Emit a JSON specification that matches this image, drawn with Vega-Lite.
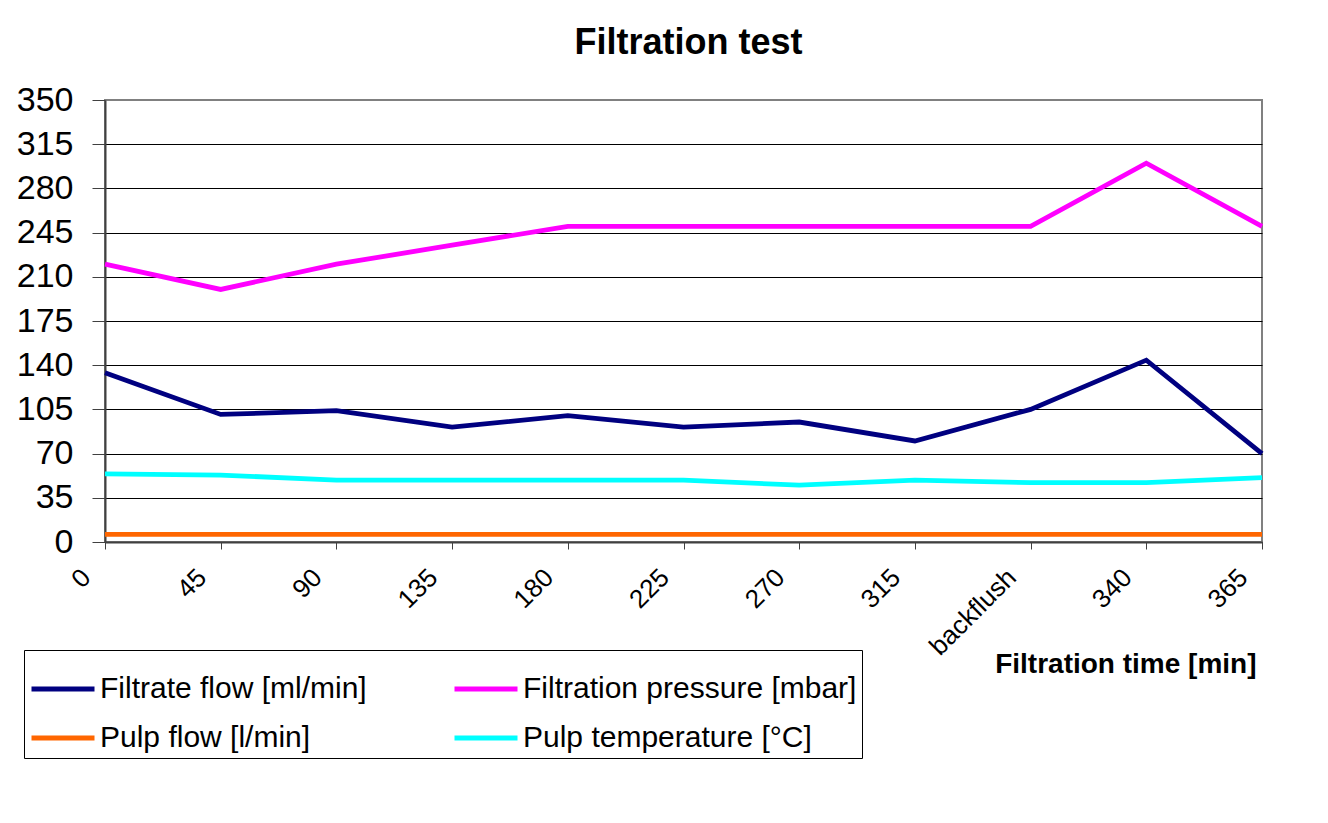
{
  "$schema": "https://vega.github.io/schema/vega-lite/v6.json",
  "width": 1157,
  "height": 442,
  "autosize": {"type": "none"},
  "padding": {"left": 105, "top": 100, "right": 66, "bottom": 281},
  "background": "white",
  "title": {
    "text": "Filtration test",
    "font": "Liberation Sans",
    "fontSize": 36,
    "fontWeight": "bold",
    "color": "black",
    "anchor": "middle",
    "frame": "group",
    "baseline": "alphabetic",
    "offset": 46,
    "dx": 5,
    "dy": 53
  },
  "data": {
    "values": [
      {"t": "0", "series": "Filtrate flow [ml/min]", "value": 134},
      {"t": "45", "series": "Filtrate flow [ml/min]", "value": 101},
      {"t": "90", "series": "Filtrate flow [ml/min]", "value": 104},
      {"t": "135", "series": "Filtrate flow [ml/min]", "value": 91},
      {"t": "180", "series": "Filtrate flow [ml/min]", "value": 100},
      {"t": "225", "series": "Filtrate flow [ml/min]", "value": 91},
      {"t": "270", "series": "Filtrate flow [ml/min]", "value": 95},
      {"t": "315", "series": "Filtrate flow [ml/min]", "value": 80},
      {"t": "backflush", "series": "Filtrate flow [ml/min]", "value": 105},
      {"t": "340", "series": "Filtrate flow [ml/min]", "value": 144},
      {"t": "365", "series": "Filtrate flow [ml/min]", "value": 70},
      {"t": "0", "series": "Filtration pressure [mbar]", "value": 220},
      {"t": "45", "series": "Filtration pressure [mbar]", "value": 200},
      {"t": "90", "series": "Filtration pressure [mbar]", "value": 220},
      {"t": "135", "series": "Filtration pressure [mbar]", "value": 235},
      {"t": "180", "series": "Filtration pressure [mbar]", "value": 250},
      {"t": "225", "series": "Filtration pressure [mbar]", "value": 250},
      {"t": "270", "series": "Filtration pressure [mbar]", "value": 250},
      {"t": "315", "series": "Filtration pressure [mbar]", "value": 250},
      {"t": "backflush", "series": "Filtration pressure [mbar]", "value": 250},
      {"t": "340", "series": "Filtration pressure [mbar]", "value": 300},
      {"t": "365", "series": "Filtration pressure [mbar]", "value": 250},
      {"t": "0", "series": "Pulp flow [l/min]", "value": 6},
      {"t": "45", "series": "Pulp flow [l/min]", "value": 6},
      {"t": "90", "series": "Pulp flow [l/min]", "value": 6},
      {"t": "135", "series": "Pulp flow [l/min]", "value": 6},
      {"t": "180", "series": "Pulp flow [l/min]", "value": 6},
      {"t": "225", "series": "Pulp flow [l/min]", "value": 6},
      {"t": "270", "series": "Pulp flow [l/min]", "value": 6},
      {"t": "315", "series": "Pulp flow [l/min]", "value": 6},
      {"t": "backflush", "series": "Pulp flow [l/min]", "value": 6},
      {"t": "340", "series": "Pulp flow [l/min]", "value": 6},
      {"t": "365", "series": "Pulp flow [l/min]", "value": 6},
      {"t": "0", "series": "Pulp temperature [°C]", "value": 54},
      {"t": "45", "series": "Pulp temperature [°C]", "value": 53},
      {"t": "90", "series": "Pulp temperature [°C]", "value": 49},
      {"t": "135", "series": "Pulp temperature [°C]", "value": 49},
      {"t": "180", "series": "Pulp temperature [°C]", "value": 49},
      {"t": "225", "series": "Pulp temperature [°C]", "value": 49},
      {"t": "270", "series": "Pulp temperature [°C]", "value": 45},
      {"t": "315", "series": "Pulp temperature [°C]", "value": 49},
      {"t": "backflush", "series": "Pulp temperature [°C]", "value": 47},
      {"t": "340", "series": "Pulp temperature [°C]", "value": 47},
      {"t": "365", "series": "Pulp temperature [°C]", "value": 51}
    ]
  },
  "mark": {"type": "line", "strokeWidth": 4.8, "strokeJoin": "miter", "strokeCap": "butt"},
  "encoding": {
    "x": {
      "field": "t",
      "type": "nominal",
      "sort": ["0", "45", "90", "135", "180", "225", "270", "315", "backflush", "340", "365"],
      "scale": {"type": "point", "padding": 0},
      "axis": {
        "title": "Filtration time [min]",
        "titleFont": "Liberation Sans",
        "titleFontSize": 28,
        "titleFontWeight": "bold",
        "titleColor": "black",
        "titleAlign": "right",
        "titleAnchor": "end",
        "titleBaseline": "alphabetic",
        "titleX": 1151,
        "titleY": 130,
        "labelAngle": -45,
        "labelAlign": "right",
        "labelBaseline": "middle",
        "labelFont": "Liberation Sans",
        "labelFontSize": 26,
        "labelColor": "black",
        "labelPadding": 24,
        "labelOffset": -19,
        "tickSize": 7,
        "tickColor": "#404040",
        "tickWidth": 1,
        "domainColor": "#404040",
        "domainWidth": 2,
        "grid": false
      }
    },
    "y": {
      "field": "value",
      "type": "quantitative",
      "scale": {"domain": [0, 350], "nice": false, "zero": true},
      "axis": {
        "title": null,
        "values": [0, 35, 70, 105, 140, 175, 210, 245, 280, 315, 350],
        "labelFont": "Liberation Sans",
        "labelFontSize": 34,
        "labelColor": "black",
        "labelPadding": 19,
        "tickSize": 13,
        "tickColor": "#404040",
        "domainColor": "#404040",
        "domainWidth": 2,
        "grid": true,
        "gridColor": {"condition": {"test": "datum.value === 350", "value": "#808080"}, "value": "black"},
        "gridWidth": 1,
        "gridOpacity": 1
      }
    },
    "color": {
      "field": "series",
      "type": "nominal",
      "scale": {
        "domain": ["Filtrate flow [ml/min]", "Filtration pressure [mbar]", "Pulp flow [l/min]", "Pulp temperature [°C]"],
        "range": ["#000080", "#FF00FF", "#FF6600", "#00FFFF"]
      },
      "legend": {
        "title": null,
        "orient": "none",
        "legendX": -81,
        "legendY": 550,
        "columns": 2,
        "direction": "horizontal",
        "symbolType": "stroke",
        "symbolSize": 3969,
        "symbolStrokeWidth": 4.8,
        "labelFont": "Liberation Sans",
        "labelFontSize": 30,
        "labelColor": "black",
        "labelOffset": 3,
        "labelLimit": 600,
        "columnPadding": 77,
        "rowPadding": 0,
        "padding": 5,
        "strokeColor": "black",
        "fillColor": "white"
      }
    }
  },
  "config": {
    "view": {"stroke": "#808080", "strokeWidth": 2},
    "axis": {"labelOverlap": false}
  }
}
